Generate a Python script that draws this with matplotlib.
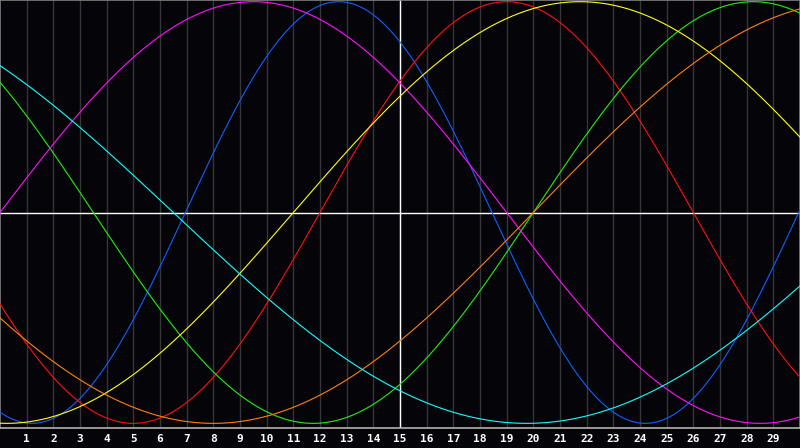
import numpy as np
import matplotlib
matplotlib.use("Agg")
import matplotlib.pyplot as plt

# Cycle data: period (days) and day of peak
names = ["physical", "emotional", "intellectual", "spiritual", "aesthetic", "awareness", "intuition"]
colors = ["#1060ff", "#ff1010", "#20f010", "#ff10ff", "#ffff10", "#ff8010", "#10ffff"]
periods = [23, 28, 33, 38, 43, 48, 53]
peak_days = [12.7, 19.0, 28.25, 9.5, 21.75, 32.0, 46.25]
day_labels = [str(i) for i in range(1, 30)]
n_days = 30

bg = "#050408"
fig = plt.figure(figsize=(8.0, 4.48), dpi=100, facecolor=bg)
ax = fig.add_axes([0, 20 / 448, 1, 428 / 448], facecolor=bg)

x = np.linspace(0, n_days, 1200)
for c, p, pk in zip(colors, periods, peak_days):
    ax.plot(x, np.cos(2 * np.pi * (x - pk) / p), color=c, lw=0.8, zorder=3)

for i in range(1, n_days):
    ax.axvline(i, color="#363636", lw=1.0, zorder=1)
ax.axvline(n_days / 2, color="white", lw=1.0, zorder=2)
ax.axhline(0, color="white", lw=1.0, zorder=2)

ax.set_xlim(0, n_days)
ax.set_ylim(-1.022, 1.008)
ax.set_xticks([])
ax.set_yticks([])
for s in ["top", "left", "right"]:
    ax.spines[s].set_color("#808080")
    ax.spines[s].set_linewidth(1.2)
ax.spines["bottom"].set_color("#b0b0b0")
ax.spines["bottom"].set_linewidth(1.2)

for i, lab in enumerate(day_labels, start=1):
    fig.text(i * 800 / n_days / 800, 1 - 439 / 448, lab, color="white",
             fontsize=8, fontweight="bold", family="DejaVu Sans Mono",
             ha="center", va="center")

fig.savefig("out.png", dpi=100, facecolor=bg)
